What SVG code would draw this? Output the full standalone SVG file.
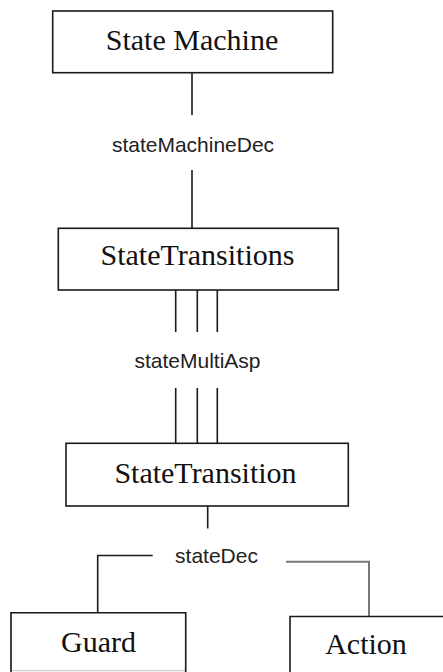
<svg xmlns="http://www.w3.org/2000/svg" width="443" height="672" viewBox="0 0 443 672">
<style>
.box{fill:#fff;stroke:#1a1a1a;stroke-width:1.6}
.nt{font-family:"Liberation Serif","Times New Roman",serif;font-size:30px;fill:#111;text-anchor:middle}
.lb{font-family:"Liberation Sans",Arial,sans-serif;font-size:21px;fill:#222;text-anchor:middle}
.ln{stroke:#1a1a1a;stroke-width:1.6;fill:none}
.lg{stroke:#777;stroke-width:2;fill:none}
</style>
<rect width="443" height="672" fill="#fff"/>
<g id="connectors">
<line class="ln" x1="192" y1="73" x2="192" y2="115"/>
<text class="lb" x="193" y="152">stateMachineDec</text>
<line class="ln" x1="192" y1="170" x2="192" y2="228"/>
<line class="ln" x1="175.7" y1="290" x2="175.7" y2="332"/>
<line class="ln" x1="197.3" y1="290" x2="197.3" y2="332"/>
<line class="ln" x1="217.3" y1="290" x2="217.3" y2="332"/>
<text class="lb" x="197.5" y="368">stateMultiAsp</text>
<line class="ln" x1="175.7" y1="388" x2="175.7" y2="443"/>
<line class="ln" x1="197.3" y1="388" x2="197.3" y2="443"/>
<line class="ln" x1="217.3" y1="388" x2="217.3" y2="443"/>
<line class="ln" x1="207.7" y1="506" x2="207.7" y2="528.5"/>
<text class="lb" x="216.5" y="562.5">stateDec</text>
<polyline class="ln" points="152.7,555.5 97.7,555.5 97.7,613"/>
<polyline class="lg" points="286,561.7 369,561.7 369,616.5"/>
</g>
<g id="node-state-machine">
<rect class="box" x="52.7" y="11" width="280" height="61.7"/>
<text class="nt" x="192" y="50">State Machine</text>
</g>
<g id="node-state-transitions">
<rect class="box" x="58.3" y="228.3" width="280" height="61.7"/>
<text class="nt" x="197.5" y="265">StateTransitions</text>
</g>
<g id="node-state-transition">
<rect class="box" x="66" y="443.3" width="282.3" height="62.7"/>
<text class="nt" x="205.5" y="483">StateTransition</text>
</g>
<g id="node-guard">
<rect x="11" y="612.7" width="174.7" height="58" fill="#fff" stroke="#ccc" stroke-width="1.2"/>
<polyline class="ln" points="11,672 11,612.7 185.7,612.7 185.7,672"/>
<text class="nt" x="98.5" y="651.7">Guard</text>
</g>
<g id="node-action">
<polyline class="ln" points="290,672 290,616.5 445,616.5"/>
<text class="nt" x="366" y="654">Action</text>
</g>
</svg>
